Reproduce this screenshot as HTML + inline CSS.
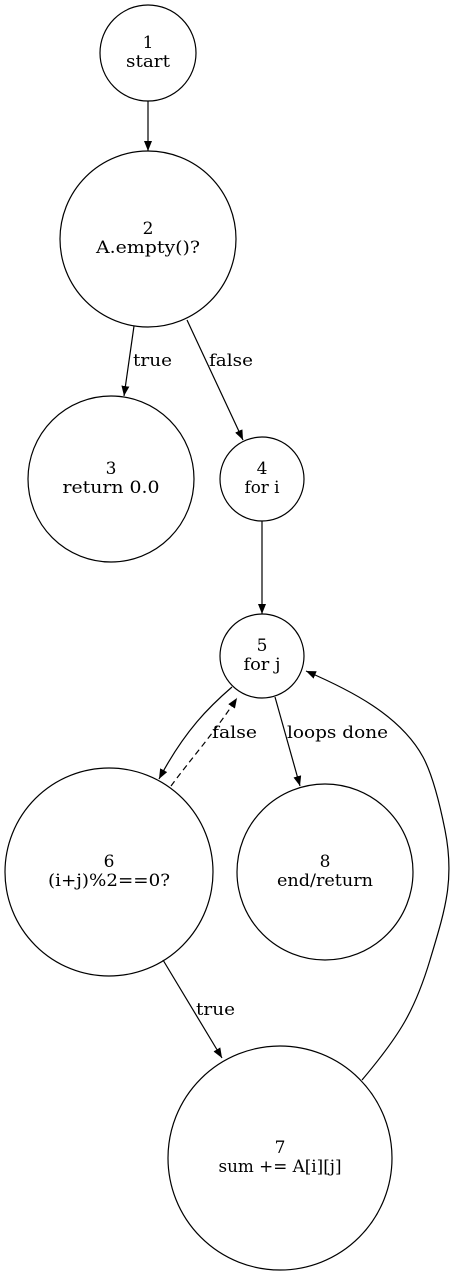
<!DOCTYPE html>
<html><head><meta charset="utf-8"><style>
html,body{margin:0;padding:0;background:#fff}
svg{display:block}
text{font-family:"DejaVu Serif","Liberation Serif",serif;font-size:17px;fill:#000}
</style></head><body>
<svg width="454" height="1275" viewBox="0 0 454 1275">
<defs><marker id="ar" markerWidth="10" markerHeight="8" refX="10" refY="4" orient="auto" markerUnits="userSpaceOnUse"><path d="M0,0 L10,4 L0,8 Z" fill="#000"/></marker></defs>
<g fill="none" stroke="#000" stroke-width="1.2">
<circle cx="148" cy="53" r="48"/>
<circle cx="148" cy="239" r="88"/>
<circle cx="111" cy="479" r="83"/>
<circle cx="262" cy="479" r="42"/>
<circle cx="262" cy="656" r="42"/>
<circle cx="109" cy="872" r="104"/>
<circle cx="325" cy="872" r="88"/>
<circle cx="280" cy="1158" r="112"/>
<path d="M148,101 L148,151" marker-end="url(#ar)"/>
<path d="M134,326 L124,396" marker-end="url(#ar)"/>
<path d="M187,320 L243,440" marker-end="url(#ar)"/>
<path d="M262,521 L262,614" marker-end="url(#ar)"/>
<path d="M232,687 C210,706 185,730 159,779" marker-end="url(#ar)"/>
<path d="M171,786 C190,760 215,732 237,698" stroke-dasharray="6,4" marker-end="url(#ar)"/>
<path d="M275,697 L300,786" marker-end="url(#ar)"/>
<path d="M163,960 L222,1058" marker-end="url(#ar)"/>
<path d="M362,1080 C400,1035 415,1010 430,960 C445,910 455,880 445,830 C438,795 430,770 423,757 C400,715 350,690 306,671" marker-end="url(#ar)"/>
</g>
<g text-anchor="middle" lengthAdjust="spacingAndGlyphs">
<text x="148" y="48">1</text><text x="148" y="67" textLength="44" lengthAdjust="spacingAndGlyphs">start</text>
<text x="148" y="234">2</text><text x="148" y="253" textLength="104" lengthAdjust="spacingAndGlyphs">A.empty()?</text>
<text x="111" y="474">3</text><text x="111" y="493" textLength="97" lengthAdjust="spacingAndGlyphs">return 0.0</text>
<text x="262" y="474">4</text><text x="262" y="493" textLength="35" lengthAdjust="spacingAndGlyphs">for i</text>
<text x="262" y="651">5</text><text x="262" y="670" textLength="37" lengthAdjust="spacingAndGlyphs">for j</text>
<text x="109" y="867">6</text><text x="109" y="886" textLength="122" lengthAdjust="spacingAndGlyphs">(i+j)%2==0?</text>
<text x="325" y="867">8</text><text x="325" y="886" textLength="96" lengthAdjust="spacingAndGlyphs">end/return</text>
<text x="280" y="1153">7</text><text x="280" y="1172" textLength="123" lengthAdjust="spacingAndGlyphs">sum += A[i][j]</text>
</g>
<g>
<text x="133" y="366" textLength="39" lengthAdjust="spacingAndGlyphs">true</text>
<text x="209" y="366" textLength="44" lengthAdjust="spacingAndGlyphs">false</text>
<text x="212" y="738" textLength="45" lengthAdjust="spacingAndGlyphs">false</text>
<text x="287" y="738" textLength="101" lengthAdjust="spacingAndGlyphs">loops done</text>
<text x="196" y="1015" textLength="39" lengthAdjust="spacingAndGlyphs">true</text>
</g>
</svg>
</body></html>
